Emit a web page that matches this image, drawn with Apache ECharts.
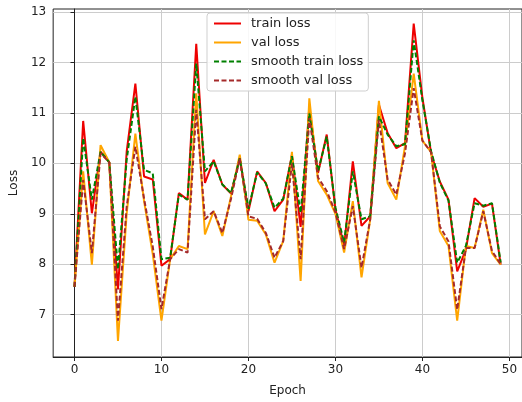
<!DOCTYPE html>
<html>
<head>
<meta charset="utf-8">
<script src="https://cdn.jsdelivr.net/npm/echarts@6/dist/echarts.min.js"></script>
<style>
html,body{margin:0;padding:0;background:#fff;}
#chart{width:522px;height:402px;}
</style>
</head>
<body>
<div id="chart"></div>
<script>
const epochs = Array.from({length: 50}, (_, i) => i);
const trainLoss = [7.55,10.84,9.01,10.23,10.02,7.5,10.23,11.58,9.74,9.68,
  7.97,8.1,9.41,9.28,12.37,9.61,10.07,9.58,9.4,10.1,
  9.05,9.84,9.61,9.05,9.28,10.17,8.74,11.12,9.81,10.57,
  9.09,8.36,10.04,8.76,8.95,11.16,10.6,10.3,10.4,12.77,
  11.3,10.2,9.64,9.28,7.86,8.29,9.31,9.14,9.2,7.99];
const valLoss = [7.55,9.84,7.99,10.36,10.02,6.48,9.0,10.59,9.25,8.2,
  6.88,8.1,8.36,8.3,11.39,8.59,9.05,8.56,9.35,10.17,
  8.88,8.86,8.59,8.03,8.46,10.23,7.67,11.29,9.65,9.38,
  9.0,8.23,9.25,7.74,8.89,11.24,9.61,9.28,10.34,11.78,
  10.45,10.22,8.66,8.36,6.88,8.36,8.32,9.08,8.22,7.99];
const smoothTrain = [7.55,10.5,9.28,10.23,10.02,7.9,10.07,11.32,9.87,9.8,
  8.1,8.13,9.38,9.28,11.98,9.84,10.04,9.58,9.41,10.1,
  9.1,9.82,9.6,9.12,9.3,10.14,9.02,10.99,9.84,10.53,
  9.12,8.43,9.84,8.89,8.95,10.93,10.57,10.34,10.38,12.44,
  11.25,10.24,9.62,9.26,8.03,8.36,9.21,9.16,9.21,8.03];
const smoothVal = [7.55,9.67,8.22,10.2,10.02,6.88,9.14,10.33,9.3,8.35,
  7.11,8.1,8.3,8.23,11.06,8.89,9.05,8.62,9.3,10.1,
  8.95,8.9,8.62,8.13,8.46,10.0,8.1,10.9,9.72,9.45,
  9.03,8.3,9.15,7.93,8.89,10.86,9.68,9.38,10.2,11.49,
  10.45,10.22,8.75,8.45,7.1,8.32,8.32,9.05,8.26,8.0];
const xTicks = [0,10,20,30,40,50];
const yTicks = [7,8,9,10,11,12,13];
const seriesNames = ['train loss','val loss','smooth train loss','smooth val loss'];

const font = 'DejaVu Sans';
const pair = arr => arr.map((v, i) => [epochs[i], v]);

const chart = echarts.init(document.getElementById('chart'), null, {renderer: 'canvas'});
chart.setOption({
  animation: false,
  backgroundColor: '#ffffff',
  grid: {left: 52, top: 9, right: -3, bottom: 44, show: true, borderColor: '#222', borderWidth: 1, backgroundColor: 'transparent'},
  legend: {
    data: seriesNames,
    orient: 'vertical',
    left: 207, top: 13,
    itemWidth: 27, itemHeight: 14, itemGap: 6,
    padding: [4, 5, 4, 6],
    backgroundColor: 'rgba(255,255,255,0.85)',
    borderColor: '#cfcfcf', borderWidth: 1, borderRadius: 3,
    itemStyle: {opacity: 0},
    textStyle: {fontFamily: font, fontSize: 13, color: '#222', padding: [0, 0, 0, 5]}
  },
  xAxis: {
    type: 'value', min: -2.45, max: 51.45,
    name: 'Epoch', nameLocation: 'middle', nameGap: 28,
    nameTextStyle: {fontFamily: font, fontSize: 12, color: '#222'},
    axisLine: {show: true, lineStyle: {color: '#222'}},
    axisTick: {show: true, length: 4, customValues: xTicks, lineStyle: {color: '#222'}},
    axisLabel: {customValues: xTicks, margin: 7, fontFamily: font, fontSize: 12, color: '#222'},
    splitLine: {show: true, lineStyle: {color: '#cccccc', width: 1}}
  },
  yAxis: {
    type: 'value', min: 6.16, max: 13.06,
    name: 'Loss', nameLocation: 'middle', nameGap: 32,
    nameTextStyle: {fontFamily: font, fontSize: 12, color: '#222'},
    axisLine: {show: true, lineStyle: {color: '#222'}},
    axisTick: {show: true, length: 4, customValues: yTicks, lineStyle: {color: '#222'}},
    axisLabel: {customValues: yTicks, margin: 7, fontFamily: font, fontSize: 12, color: '#222'},
    splitLine: {show: true, lineStyle: {color: '#cccccc', width: 1}}
  },
  series: [
    {name: seriesNames[0], type: 'line', data: pair(trainLoss), showSymbol: false, symbol: 'none',
     color: '#ee0000', lineStyle: {color: '#ee0000', width: 2}},
    {name: seriesNames[1], type: 'line', data: pair(valLoss), showSymbol: false, symbol: 'none',
     color: '#ffa500', lineStyle: {color: '#ffa500', width: 2}},
    {name: seriesNames[2], type: 'line', data: pair(smoothTrain), showSymbol: false, symbol: 'none',
     color: '#008000', lineStyle: {color: '#008000', width: 2, type: [5, 2.5]}},
    {name: seriesNames[3], type: 'line', data: pair(smoothVal), showSymbol: false, symbol: 'none',
     color: '#a52a2a', lineStyle: {color: '#a52a2a', width: 2, type: [5, 2.5]}}
  ]
});
</script>
</body>
</html>
